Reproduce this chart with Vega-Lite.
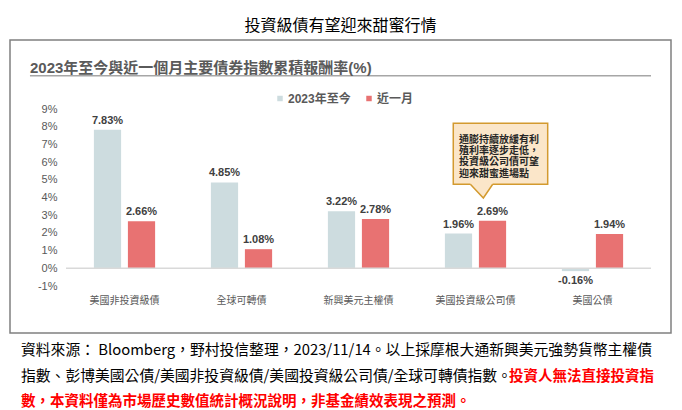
{
  "$schema": "https://vega.github.io/schema/vega-lite/v6.json",
  "padding": {"left": 9, "top": 18, "right": 12, "bottom": 0},
  "autosize": {"type": "pad"},
  "config": {
    "locale": {"number": {"decimal": ".", "thousands": ",", "grouping": [3], "currency": ["$", ""], "minus": "-"}},
    "view": {"stroke": null},
    "font": "Liberation Sans, Noto Sans CJK TC",
    "concat": {"spacing": 0},
    "axisY": {"labelOverlap": false, "labelBound": false},
    "axis": {"labelOverlap": false}
  },
  "title": {"text": "投資級債有望迎來甜蜜行情", "anchor": "middle", "fontSize": 16, "fontWeight": "normal", "font": "Noto Sans CJK TC", "color": "#000000", "offset": 5},
  "datasets": {
    "returns": [
      {"category": "美國非投資級債", "series": "2023年至今", "value": 0.0783},
      {"category": "美國非投資級債", "series": "近一月", "value": 0.0266},
      {"category": "全球可轉債", "series": "2023年至今", "value": 0.0485},
      {"category": "全球可轉債", "series": "近一月", "value": 0.0108},
      {"category": "新興美元主權債", "series": "2023年至今", "value": 0.0322},
      {"category": "新興美元主權債", "series": "近一月", "value": 0.0278},
      {"category": "美國投資級公司債", "series": "2023年至今", "value": 0.0196},
      {"category": "美國投資級公司債", "series": "近一月", "value": 0.0269},
      {"category": "美國公債", "series": "2023年至今", "value": -0.0016},
      {"category": "美國公債", "series": "近一月", "value": 0.0194}
    ],
    "pointer": [
      {"px": 3.456, "py": 0.04746},
      {"px": 3.567, "py": 0.0397},
      {"px": 3.647, "py": 0.04746}
    ],
    "callout": [
      {"note": "通膨持續放緩有利\n殖利率逐步走低，\n投資級公司債可望\n迎來甜蜜進場點"}
    ],
    "footnote": [
      {"line": 1, "side": "start", "kind": "source", "text": "資料來源： Bloomberg，野村投信整理，2023/11/14。以上採摩根大通新興美元強勢貨幣主權債"},
      {"line": 2, "side": "start", "kind": "source", "text": "指數、彭博美國公債/美國非投資級債/美國投資級公司債/全球可轉債指數。"},
      {"line": 2, "side": "end", "kind": "warning", "text": "投資人無法直接投資指"},
      {"line": 3, "side": "start", "kind": "warning", "text": "數，本資料僅為市場歷史數值統計概況說明，非基金績效表現之預測。"}
    ]
  },
  "vconcat": [
    {
      "width": 661,
      "height": 293,
      "view": {"stroke": "#808080", "strokeWidth": 1.5},
      "title": {"text": "2023年至今與近一個月主要債券指數累積報酬率(%)", "anchor": "start", "frame": "group", "dx": 20, "dy": 43, "offset": 0, "baseline": "middle", "fontSize": 15, "fontWeight": "bold", "color": "#5a5a5a", "font": "Liberation Sans, Noto Sans CJK TC"},
      "layer": [
        {
          "data": {"name": "returns"},
          "encoding": {
            "x": {"field": "category", "type": "nominal", "sort": null,
              "scale": {"range": [56, 641], "paddingInner": 0, "paddingOuter": 0},
              "axis": {"title": null, "orient": "bottom", "offset": -40, "domain": false, "ticks": false, "labelPadding": 2, "labelFontSize": 10, "labelColor": "#595959", "labelFont": "Noto Sans CJK TC", "labelAngle": 0}},
            "xOffset": {"field": "series", "type": "nominal", "sort": ["2023年至今", "近一月"], "scale": {"paddingInner": 0.2, "paddingOuter": 0.82}},
            "y": {"field": "value", "type": "quantitative",
              "scale": {"domain": [-0.01, 0.09], "range": [246, 69], "nice": false, "zero": false},
              "axis": {"title": null, "values": [-0.01, 0, 0.01, 0.02, 0.03, 0.04, 0.05, 0.06, 0.07, 0.08, 0.09], "format": ".0%", "domain": false, "ticks": false, "grid": false, "offset": -49, "labelPadding": 2, "labelFontSize": 11, "labelColor": "#595959", "labelOverlap": false, "labelBound": false}}
          },
          "layer": [
            {
              "mark": {"type": "bar"},
              "encoding": {
                "color": {"field": "series", "type": "nominal",
                  "scale": {"domain": ["2023年至今", "近一月"], "range": ["#cddcdf", "#e87272"]},
                  "legend": {"orient": "none", "legendX": 264, "legendY": 52.5, "direction": "horizontal", "title": null, "symbolType": "square", "symbolSize": 30, "symbolStrokeWidth": 0, "labelFontSize": 12, "labelFontWeight": "bold", "labelColor": "#595959", "labelOffset": 2, "columnPadding": 12, "padding": 0}}
              }
            },
            {
              "transform": [{"filter": "datum.value >= 0"}],
              "mark": {"type": "text", "baseline": "bottom", "dy": -4, "fontSize": 11, "fontWeight": "bold", "color": "#404040"},
              "encoding": {"text": {"field": "value", "type": "quantitative", "format": ".2%"}}
            },
            {
              "transform": [{"filter": "datum.value < 0"}],
              "mark": {"type": "text", "baseline": "top", "dy": 4, "fontSize": 11, "fontWeight": "bold", "color": "#404040"},
              "encoding": {"text": {"field": "value", "type": "quantitative", "format": ".2%"}}
            }
          ]
        },
        {
          "layer": [
            {
              "data": {"values": [{}]},
              "mark": {"type": "rule", "color": "#d9d9d9", "strokeWidth": 1.5},
              "encoding": {
                "x": {"datum": 0, "type": "quantitative", "scale": {"domain": [0, 5], "range": [56, 641], "nice": false, "zero": false}, "axis": null},
                "x2": {"datum": 5},
                "y": {"datum": 0, "type": "quantitative", "scale": {"domain": [-0.01, 0.09], "range": [246, 69], "nice": false, "zero": false}, "axis": null}
              }
            },
            {
              "data": {"values": [{}]},
              "mark": {"type": "rule", "color": "#a6a6a6", "strokeWidth": 1.5},
              "encoding": {
                "x": {"datum": -0.308, "type": "quantitative", "scale": {"domain": [0, 5], "range": [56, 641], "nice": false, "zero": false}, "axis": null},
                "x2": {"datum": 5.0},
                "y": {"datum": 0.1088, "type": "quantitative", "scale": {"domain": [-0.01, 0.09], "range": [246, 69], "nice": false, "zero": false}, "axis": null}
              }
            },
            {
              "data": {"values": [{}]},
              "mark": {"type": "rect", "fill": "#fbe6c9", "stroke": "#d39a2f", "strokeWidth": 1.5},
              "encoding": {
                "x": {"datum": 3.31, "type": "quantitative", "scale": {"domain": [0, 5], "range": [56, 641], "nice": false, "zero": false}, "axis": null},
                "x2": {"datum": 4.117},
                "y": {"datum": 0.0819, "type": "quantitative", "scale": {"domain": [-0.01, 0.09], "range": [246, 69], "nice": false, "zero": false}, "axis": null},
                "y2": {"datum": 0.04746}
              }
            },
            {
              "data": {"name": "pointer"},
              "mark": {"type": "area", "fill": "#fbe6c9", "orient": "vertical"},
              "encoding": {
                "x": {"field": "px", "type": "quantitative", "scale": {"domain": [0, 5], "range": [56, 641], "nice": false, "zero": false}, "axis": null},
                "y": {"field": "py", "type": "quantitative", "scale": {"domain": [-0.01, 0.09], "range": [246, 69], "nice": false, "zero": false}, "axis": null},
                "y2": {"datum": 0.0486}
              }
            },
            {
              "data": {"name": "pointer"},
              "mark": {"type": "line", "color": "#d39a2f", "strokeWidth": 1.5},
              "encoding": {
                "x": {"field": "px", "type": "quantitative", "scale": {"domain": [0, 5], "range": [56, 641], "nice": false, "zero": false}, "axis": null},
                "y": {"field": "py", "type": "quantitative", "scale": {"domain": [-0.01, 0.09], "range": [246, 69], "nice": false, "zero": false}, "axis": null}
              }
            },
            {
              "data": {"name": "callout"},
              "mark": {"type": "text", "align": "left", "baseline": "middle", "lineBreak": "\n", "lineHeight": 11.4, "fontSize": 10, "fontWeight": "bold", "color": "#262626", "font": "Noto Sans CJK TC"},
              "encoding": {
                "x": {"datum": 3.36, "type": "quantitative", "scale": {"domain": [0, 5], "range": [56, 641], "nice": false, "zero": false}, "axis": null},
                "y": {"datum": 0.0727, "type": "quantitative", "scale": {"domain": [-0.01, 0.09], "range": [246, 69], "nice": false, "zero": false}, "axis": null},
                "text": {"field": "note"}
              }
            }
          ]
        }
      ],
      "resolve": {"scale": {"x": "independent", "y": "independent"}}
    },
    {
      "width": 661,
      "height": 77,
      "data": {"name": "footnote"},
      "encoding": {
        "y": {"field": "line", "type": "ordinal", "scale": {"type": "point", "domain": [1, 2, 3], "range": [17, 68], "padding": 0}, "axis": null},
        "x": {"field": "side", "type": "nominal", "scale": {"type": "point", "domain": ["start", "end"], "range": [11, 644], "padding": 0}, "axis": null},
        "text": {"field": "text"}
      },
      "layer": [
        {
          "transform": [{"filter": "datum.kind === 'source'"}],
          "mark": {"type": "text", "align": "left", "baseline": "middle", "fontSize": 14.8, "font": "Noto Sans CJK TC", "color": "#000000"}
        },
        {
          "transform": [{"filter": "datum.kind === 'warning' && datum.side === 'end'"}],
          "mark": {"type": "text", "align": "right", "baseline": "middle", "fontSize": 14.5, "fontWeight": "bold", "font": "Noto Sans CJK TC", "color": "#ff0000"}
        },
        {
          "transform": [{"filter": "datum.kind === 'warning' && datum.side === 'start'"}],
          "mark": {"type": "text", "align": "left", "baseline": "middle", "fontSize": 14.5, "fontWeight": "bold", "font": "Noto Sans CJK TC", "color": "#ff0000"}
        }
      ]
    }
  ]
}
